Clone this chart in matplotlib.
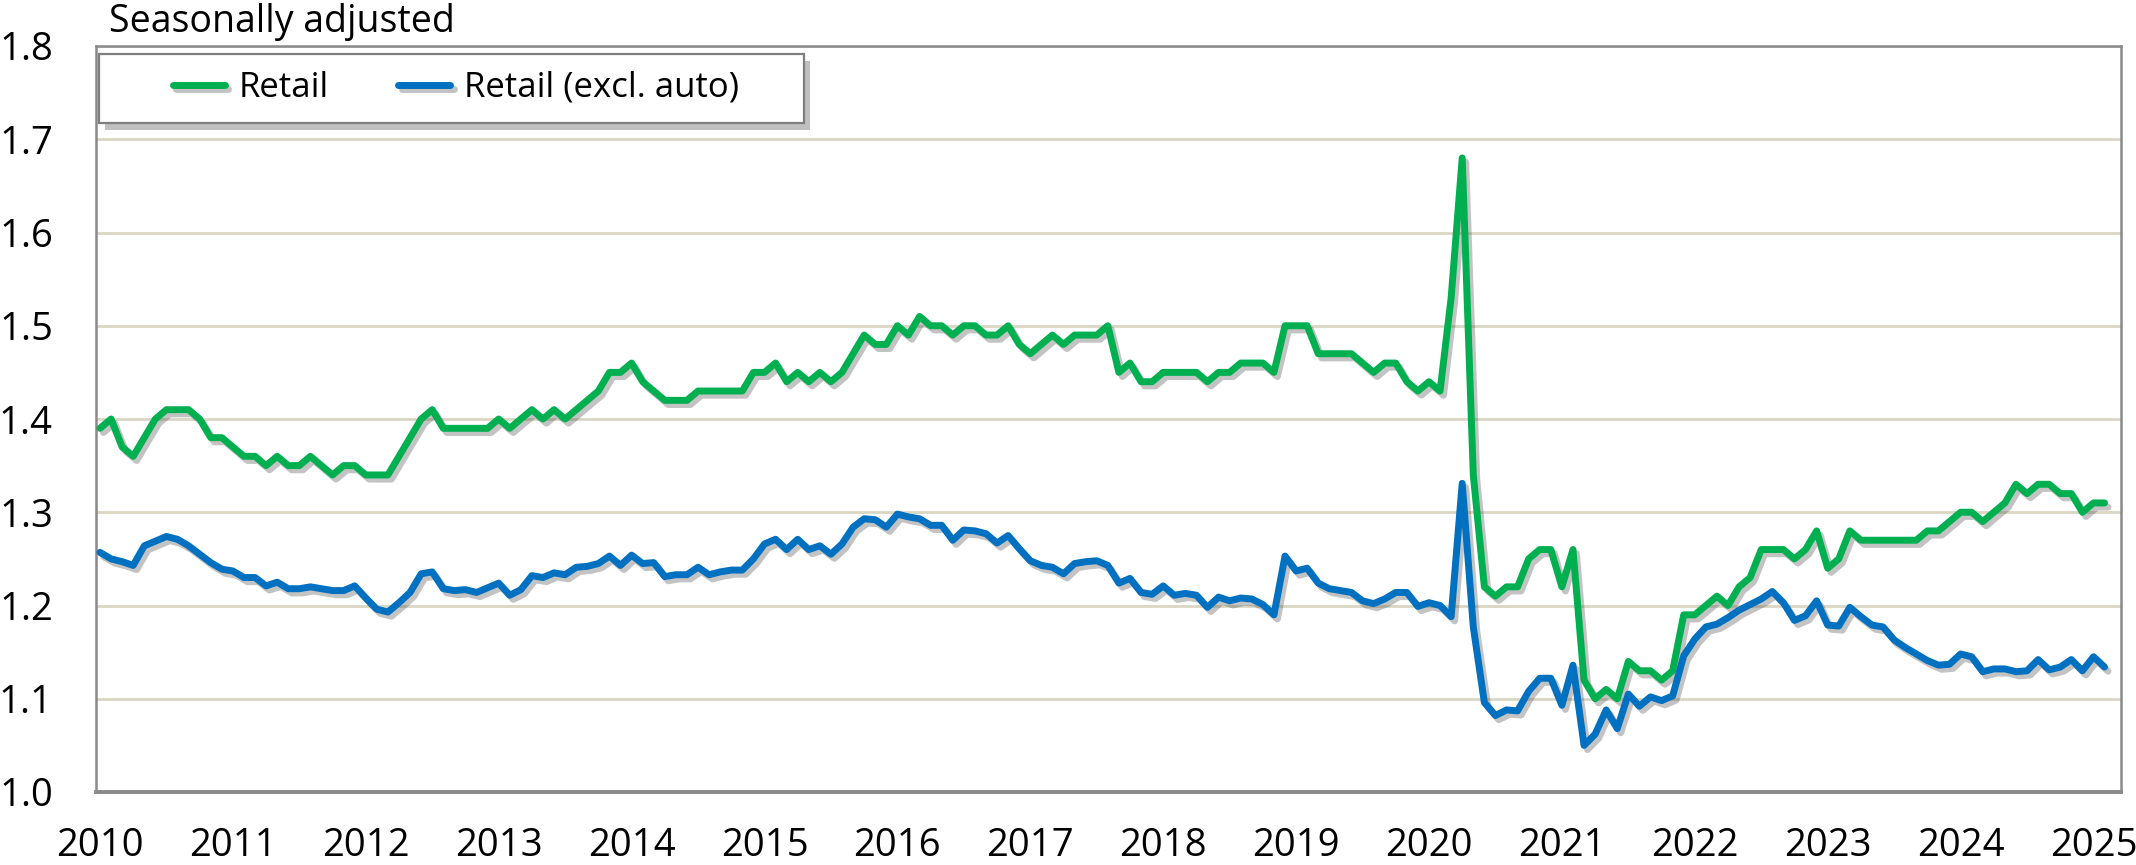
import matplotlib
matplotlib.use('Agg')
import matplotlib.pyplot as plt
import matplotlib.patheffects as pe
from matplotlib.patches import Rectangle
import numpy as np

# monthly values, Jan 2010 .. Feb 2025
start_year = 2010
retail = [
    1.39, 1.40, 1.37, 1.36, 1.38, 1.40, 1.41, 1.41, 1.41, 1.40, 1.38, 1.38,
    1.37, 1.36, 1.36, 1.35, 1.36, 1.35, 1.35, 1.36, 1.35, 1.34, 1.35, 1.35,
    1.34, 1.34, 1.34, 1.36, 1.38, 1.40, 1.41, 1.39, 1.39, 1.39, 1.39, 1.39,
    1.40, 1.39, 1.40, 1.41, 1.40, 1.41, 1.40, 1.41, 1.42, 1.43, 1.45, 1.45,
    1.46, 1.44, 1.43, 1.42, 1.42, 1.42, 1.43, 1.43, 1.43, 1.43, 1.43, 1.45,
    1.45, 1.46, 1.44, 1.45, 1.44, 1.45, 1.44, 1.45, 1.47, 1.49, 1.48, 1.48,
    1.50, 1.49, 1.51, 1.50, 1.50, 1.49, 1.50, 1.50, 1.49, 1.49, 1.50, 1.48,
    1.47, 1.48, 1.49, 1.48, 1.49, 1.49, 1.49, 1.50, 1.45, 1.46, 1.44, 1.44,
    1.45, 1.45, 1.45, 1.45, 1.44, 1.45, 1.45, 1.46, 1.46, 1.46, 1.45, 1.50,
    1.50, 1.50, 1.47, 1.47, 1.47, 1.47, 1.46, 1.45, 1.46, 1.46, 1.44, 1.43,
    1.44, 1.43, 1.53, 1.68, 1.34, 1.22, 1.21, 1.22, 1.22, 1.25, 1.26, 1.26,
    1.22, 1.26, 1.12, 1.10, 1.11, 1.10, 1.14, 1.13, 1.13, 1.12, 1.13, 1.19,
    1.19, 1.20, 1.21, 1.20, 1.22, 1.23, 1.26, 1.26, 1.26, 1.25, 1.26, 1.28,
    1.24, 1.25, 1.28, 1.27, 1.27, 1.27, 1.27, 1.27, 1.27, 1.28, 1.28, 1.29,
    1.30, 1.30, 1.29, 1.30, 1.31, 1.33, 1.32, 1.33, 1.33, 1.32, 1.32, 1.30,
    1.31, 1.31,
]
retail_ex_auto = [
    1.257, 1.250, 1.247, 1.243, 1.264, 1.269, 1.274, 1.271, 1.264, 1.255, 1.246, 1.239,
    1.237, 1.230, 1.230, 1.221, 1.225, 1.218, 1.218, 1.220, 1.218, 1.216, 1.216, 1.221,
    1.208, 1.196, 1.193, 1.203, 1.214, 1.234, 1.236, 1.218, 1.216, 1.217, 1.214, 1.219,
    1.224, 1.211, 1.217, 1.232, 1.230, 1.235, 1.233, 1.241, 1.242, 1.245, 1.253, 1.243,
    1.254, 1.245, 1.246, 1.231, 1.233, 1.233, 1.241, 1.233, 1.236, 1.238, 1.238, 1.250,
    1.266, 1.271, 1.260, 1.271, 1.260, 1.264, 1.255, 1.266, 1.284, 1.293, 1.292, 1.284,
    1.298, 1.295, 1.293, 1.286, 1.286, 1.270, 1.281, 1.280, 1.277, 1.267, 1.275, 1.261,
    1.248, 1.243, 1.241, 1.234, 1.245, 1.247, 1.248, 1.243, 1.224, 1.229, 1.214, 1.212,
    1.221, 1.211, 1.213, 1.211, 1.198, 1.209, 1.205, 1.208, 1.207, 1.201, 1.190, 1.253,
    1.237, 1.240, 1.224, 1.218, 1.216, 1.214, 1.205, 1.202, 1.207, 1.214, 1.214, 1.199,
    1.203, 1.200, 1.188, 1.331, 1.177, 1.096, 1.082, 1.088, 1.087, 1.108, 1.122, 1.122,
    1.093, 1.136, 1.050, 1.062, 1.088, 1.068, 1.105, 1.092, 1.102, 1.098, 1.103, 1.146,
    1.164, 1.177, 1.180, 1.187, 1.195, 1.201, 1.207, 1.215, 1.203, 1.184, 1.189, 1.205,
    1.179, 1.178, 1.198, 1.188, 1.179, 1.177, 1.163, 1.155, 1.148, 1.141, 1.136, 1.137,
    1.148, 1.145, 1.129, 1.132, 1.132, 1.129, 1.130, 1.142, 1.131, 1.134, 1.142, 1.130,
    1.145, 1.134,
]
year_ticks = list(range(2010, 2026))
y_ticks = [1.0, 1.1, 1.2, 1.3, 1.4, 1.5, 1.6, 1.7, 1.8]
labels = ['Retail', 'Retail (excl. auto)']
colors = ['#00B050', '#0070C0']

plt.rcParams['font.family'] = ['Open Sans', 'DejaVu Sans']

W, H = 2136, 865
fig = plt.figure(figsize=(W / 100, H / 100), dpi=100)
ax = fig.add_axes([96 / W, 1 - 792 / H, (2121 - 96) / W, (792 - 46) / H])

months = start_year + np.arange(len(retail)) / 12.0
shadow = [pe.SimpleLineShadow(offset=(2.5, -3), shadow_color='#555555', alpha=0.35),
          pe.Normal()]
handles = []
for vals, lab, col in zip([retail, retail_ex_auto], labels, colors):
    ln, = ax.plot(months, vals, color=col, lw=5, solid_joinstyle='round',
                  solid_capstyle='round', label=lab, path_effects=shadow, zorder=3)
    handles.append(ln)

ax.set_xlim(2009.970, 2025.207)
ax.set_ylim(1.0, 1.8)
ax.set_xticks(year_ticks)
ax.set_xticklabels([str(y) for y in year_ticks])
ax.set_yticks(y_ticks)
ax.set_yticklabels(['%.1f' % v for v in y_ticks])
ax.tick_params(axis='both', length=0, labelsize=27.5)
ax.tick_params(axis='y', pad=31)
ax.tick_params(axis='x', pad=25)

ax.grid(axis='y', color='#d9d6c3', lw=2)
ax.set_axisbelow(True)
for side in ['left', 'top', 'right']:
    ax.spines[side].set_color('#8a8a8a')
    ax.spines[side].set_linewidth(1.8)
ax.spines['bottom'].set_color('#8a8a8a')
ax.spines['bottom'].set_linewidth(2.8)

fig.text(109 / W, 1 - 32 / H, 'Seasonally adjusted', fontsize=27, va='baseline', ha='left')

# legend box drawn by hand so it can be wider than its content
box = Rectangle((99 / W, 1 - 123 / H), (804 - 99) / W, (123 - 54) / H,
                transform=fig.transFigure, facecolor='white', edgecolor='#7f7f7f', lw=1.6,
                zorder=5, clip_on=False,
                path_effects=[pe.withSimplePatchShadow(offset=(4, -5), alpha=0.35)])
ax.add_patch(box)
leg = ax.legend(handles=handles, loc='center', bbox_to_anchor=(456 / W, 1 - 88 / H),
                bbox_transform=fig.transFigure, ncol=2, frameon=False, fontsize=25,
                handlelength=1.5, handletextpad=0.4, columnspacing=2.0, borderpad=0)
leg.set_zorder(6)

fig.savefig('out.png', dpi=100)
